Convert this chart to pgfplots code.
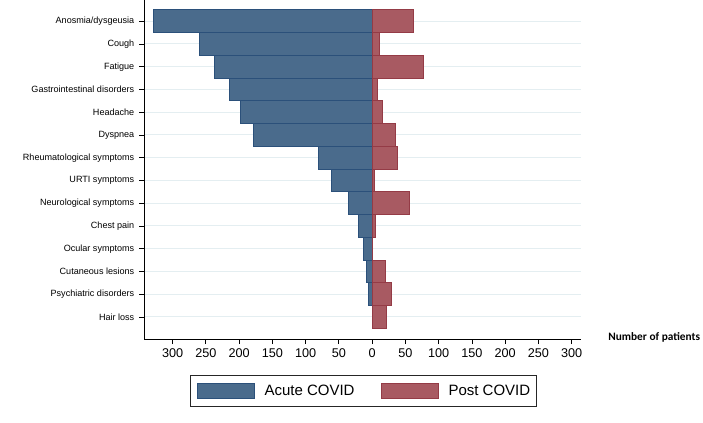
\documentclass[border=0pt]{standalone}
\usepackage{pgfplots}
\pgfplotsset{compat=1.18}
\usepackage{pgfplotstable}
\usepackage{fontspec}
\setmainfont{Liberation Sans}
\newfontfamily\calibri{Carlito}

\definecolor{acute}{RGB}{74,107,140}
\definecolor{acuteedge}{RGB}{43,80,122}
\definecolor{post}{RGB}{168,90,98}
\definecolor{postedge}{RGB}{148,59,70}
\definecolor{gridc}{RGB}{228,238,241}

% acute counts negative so they go to the left
\pgfplotstableread{
pos acute post
14 -328 62
13 -260 11
12 -237 77
11 -215 8
10 -198 16
9  -179 35
8  -80  38
7  -61  4
6  -36  56
5  -20  5
4  -13  1
3  -8   20
2  -5   29
1  0    22
}\symptoms

\begin{document}
\begin{tikzpicture}
\useasboundingbox (0,0) rectangle (527.25pt,316.5pt);
\begin{axis}[
    at={(108pt,62.25pt)}, anchor=south west,
    scale only axis,
    width=327.75pt, height=254.25pt,
    xbar, bar width=1, bar shift=0pt,
    xmin=-343, xmax=314,
    ymin=0.03, ymax=14.93,
    axis x line*=bottom, axis y line*=left,
    axis line style={black, line width=0.75pt},
    tick align=outside,
    major tick length=3.75pt,
    tick style={black, line width=0.6pt},
    xtick={-300,-250,...,300},
    xticklabels={300,250,200,150,100,50,0,50,100,150,200,250,300},
    ytick={1,...,14},
    yticklabels={Hair loss, Psychiatric disorders, Cutaneous lesions, Ocular symptoms,
        Chest pain, Neurological symptoms, URTI symptoms, Rheumatological symptoms,
        Dyspnea, Headache, Gastrointestinal disorders, Fatigue, Cough, Anosmia/dysgeusia},
    xticklabel style={font=\fontsize{9.5}{11}\selectfont},
    yticklabel style={font=\fontsize{6.8}{8}\selectfont},
    ymajorgrids,
    grid style={draw=gridc, line width=0.75pt},
    xlabel={Number of patients},
    xlabel style={at={(axis description cs:1,0)}, anchor=west, xshift=17pt, yshift=1pt,
        font=\calibri\bfseries\fontsize{8.5}{10}\selectfont},
    sw/.style={legend image code/.code={\draw[##1] (0pt,-5.6pt) rectangle (42.75pt,5.6pt);}},
    legend columns=2,
    legend cell align=left,
    legend style={at={(0.502,-0.106)}, anchor=north, draw=black!85, line width=0.6pt,
        inner xsep=4.5pt, inner ysep=5.6pt,
        font=\fontsize{11.25}{13}\selectfont,
        nodes={inner sep=0pt},
        /tikz/every odd column/.append style={column sep=7.5pt},
        /tikz/every even column/.append style={column sep=19.5pt}},
]
\addplot[xbar, fill=acute, draw=acuteedge, line width=0.75pt, sw] table[x=acute, y=pos] {\symptoms};
\addlegendentry{Acute COVID}
\addplot[xbar, fill=post, draw=postedge, line width=0.75pt, sw] table[x=post, y=pos] {\symptoms};
\addlegendentry{Post COVID}
\end{axis}
\end{tikzpicture}
\end{document}
